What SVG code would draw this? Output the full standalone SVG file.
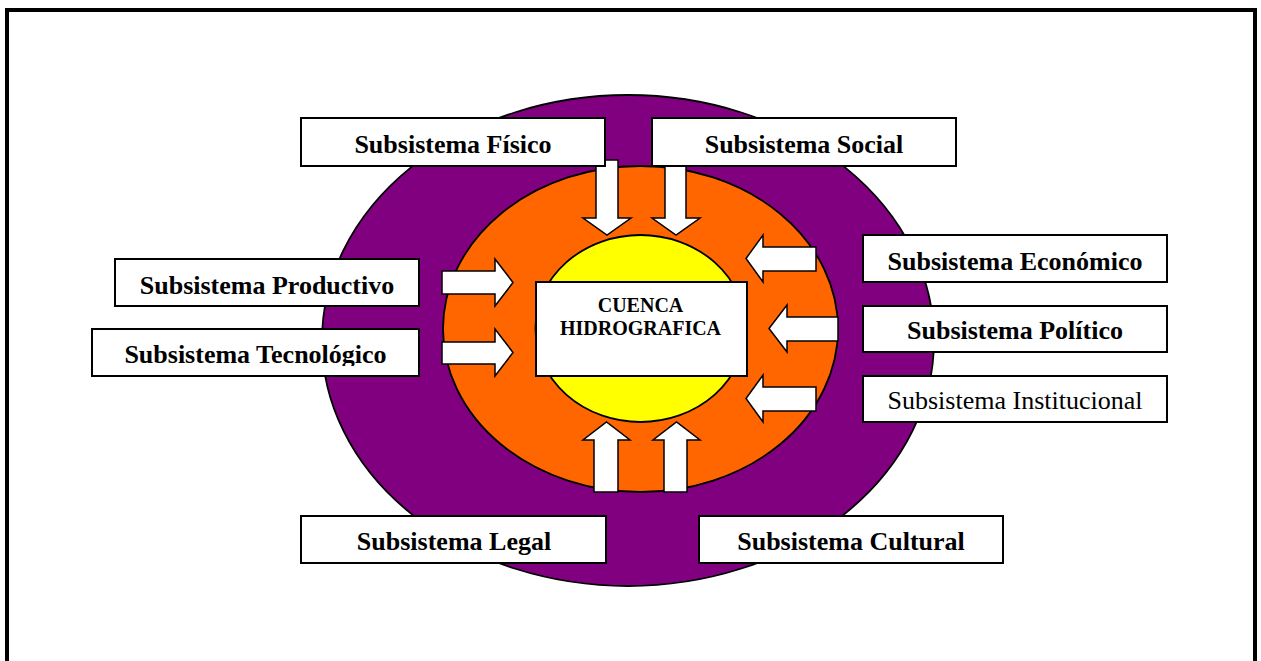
<svg xmlns="http://www.w3.org/2000/svg" width="1261" height="661" viewBox="0 0 1261 661">
<style>
.box{fill:#fff;stroke:#000;stroke-width:2}
.lbl{font-family:"Liberation Serif","Times New Roman",serif;font-size:26px;font-weight:bold;fill:#000;text-anchor:middle}
.reg{font-weight:normal}
.arr{fill:#fff;stroke:#000;stroke-width:1.5;stroke-linejoin:miter}
.ring{stroke:#000;stroke-width:1.8}
.ctr{font-family:"Liberation Serif","Times New Roman",serif;font-size:20px;font-weight:bold;fill:#000;text-anchor:middle}
</style>
<defs>
<clipPath id="clipTec"><rect x="92" y="329" width="327" height="37"/></clipPath>
</defs>
<rect x="0" y="0" width="1261" height="661" fill="#fff"/>
<rect x="7" y="10" width="1248" height="700" fill="none" stroke="#000" stroke-width="4"/>
<g id="rings">
<ellipse class="ring" cx="628" cy="340.5" rx="306" ry="245.5" fill="#800080"/>
<ellipse class="ring" cx="640.5" cy="329" rx="197.5" ry="163" fill="#FF6600"/>
<ellipse class="ring" cx="640.5" cy="328.5" rx="105" ry="93.5" fill="#FFFF00"/>
</g>
<g id="connectors">
<polygon class="arr" points="596,160 618,160 618,218 631,218 607,235 583,218 596,218"/>
<polygon class="arr" points="665,160 686,160 686,218 700,218 676,235 652,218 665,218"/>
<polygon class="arr" points="594,492 618,492 618,440 630,440 606.5,422 583,440 594,440"/>
<polygon class="arr" points="664,492 687,492 687,440 700,440 676.5,422 653,440 664,440"/>
<polygon class="arr" points="442,271 495,271 495,259 513,282.5 495,306 495,294 442,294"/>
<polygon class="arr" points="442,342 495,342 495,329 513,352.5 495,376 495,364 442,364"/>
<polygon class="arr" points="816,247 763,247 763,235 746,258.5 763,282 763,271 816,271"/>
<polygon class="arr" points="838,317 787,317 787,305 769,328.5 787,352 787,341 838,341"/>
<polygon class="arr" points="816,387 763,387 763,375 746,398.5 763,422 763,411 816,411"/>
</g>
<g id="fisico"><rect class="box" x="301" y="118" width="304" height="48"/><text class="lbl" x="453" y="153">Subsistema Físico</text></g>
<g id="social"><rect class="box" x="652" y="118" width="304" height="48"/><text class="lbl" x="804" y="153">Subsistema Social</text></g>
<g id="productivo"><rect class="box" x="115" y="259" width="304" height="47"/><text class="lbl" x="267" y="294">Subsistema Productivo</text></g>
<g id="tecnologico"><rect class="box" x="92" y="329" width="327" height="47"/><text class="lbl" x="255.5" y="363" clip-path="url(#clipTec)">Subsistema Tecnológico</text></g>
<g id="economico"><rect class="box" x="863" y="235" width="304" height="47"/><text class="lbl" x="1015" y="270">Subsistema Económico</text></g>
<g id="politico"><rect class="box" x="863" y="306" width="304" height="46"/><text class="lbl" x="1015" y="339">Subsistema Político</text></g>
<g id="institucional"><rect class="box" x="863" y="376" width="304" height="46"/><text class="lbl reg" x="1015" y="409">Subsistema Institucional</text></g>
<g id="legal"><rect class="box" x="301" y="516" width="305" height="47"/><text class="lbl" x="454" y="550">Subsistema Legal</text></g>
<g id="cultural"><rect class="box" x="699" y="516" width="304" height="47"/><text class="lbl" x="851" y="550">Subsistema Cultural</text></g>
<g id="cuenca"><rect class="box" x="536" y="282" width="211" height="94"/><text class="ctr" x="640.5" y="312">CUENCA</text><text class="ctr" x="640.5" y="335">HIDROGRAFICA</text></g>
</svg>
